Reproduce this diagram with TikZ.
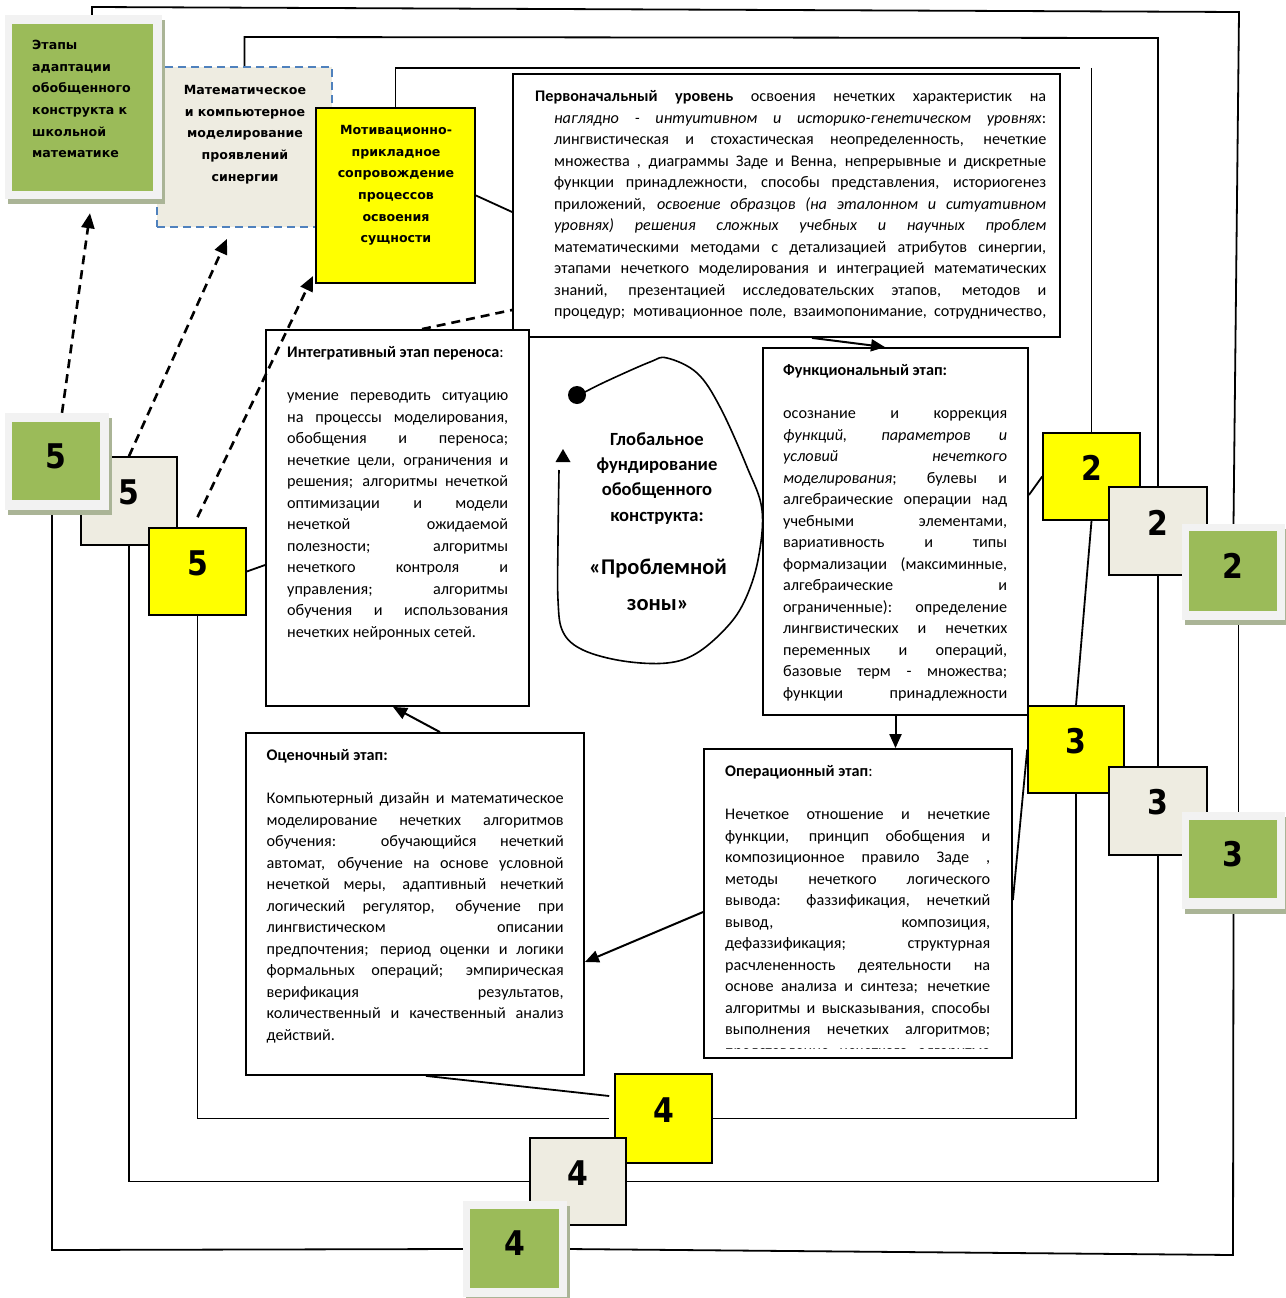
\documentclass[tikz,border=0pt]{standalone}
\usepackage{fontspec}
\usepackage{graphicx}
\setmainfont{Carlito}
\newfontfamily\lblfont{DejaVu Sans}
\usetikzlibrary{arrows.meta,calc,backgrounds}
\definecolor{ygreen}{RGB}{155,187,89}
\definecolor{frm}{RGB}{242,242,242}
\definecolor{shd}{RGB}{170,180,150}
\definecolor{beige}{RGB}{238,236,225}
\definecolor{yel}{RGB}{255,255,0}
\definecolor{dblue}{RGB}{79,129,189}
\newcommand\LB{\linebreak}
\newcommand\PSet{\parindent=0pt\leftskip=0pt\rightskip=0pt\tolerance=10000\pretolerance=-1\hyphenpenalty=10000\exhyphenpenalty=10000\hbadness=10000}
\newcommand\bx[6]{%
  \pgfmathsetmacro\bxw{#4-#2}\pgfmathsetmacro\bxh{#5-#3}%
  \node[#1, minimum width=\bxw pt, minimum height=\bxh pt] (#6) at ({(#2+#4)/2},{(#3+#5)/2}) {};}
\newcommand\gbox[9]{%
  \fill[shd] ({#2+3},{#3+5}) rectangle ({#4+3},{#5+5});
  \bx{gframe}{#2}{#3}{#4}{#5}{#1F}
  \bx{gfill}{#6}{#7}{#8}{#9}{#1}}
\tikzset{
  stg/.style={draw, line width=1.8pt, fill=white, inner sep=0pt},
  ybox/.style={draw, line width=1.6pt, fill=yel, inner sep=0pt},
  bbox/.style={draw, line width=1.6pt, fill=beige, inner sep=0pt},
  gfill/.style={fill=ygreen, inner sep=0pt},
  gframe/.style={fill=frm, inner sep=0pt},
  txt/.style={anchor=north west, inner sep=0pt, align=justify, font=\fontsize{16.2}{21.5}\selectfont},
  lbl/.style={inner sep=0pt, font=\lblfont\bfseries\fontsize{12.6}{21.6}\selectfont},
  num/.style={inner sep=0pt, font=\lblfont\bfseries\fontsize{34}{34}\selectfont},
  loopline/.style={line width=1.8pt},
  conn/.style={line width=1.8pt},
  arr/.style={line width=2pt, -{Triangle[length=14pt,width=12pt]}},
  dashar/.style={line width=2.6pt, dash pattern=on 9pt off 6pt, -{Triangle[length=15pt,width=13pt]}},
  dashln/.style={line width=2.6pt, dash pattern=on 9pt off 6pt},
}
\begin{document}
\begin{tikzpicture}[x=1pt,y=-1pt]
\useasboundingbox (0,0) rectangle (1285,1298);

% ---- top-left label boxes
\bx{bbox, draw=dblue, dash pattern=on 8pt off 5pt, line width=1.8pt}{157}{67}{332}{227}{bTop}
\gbox{gTop}{5}{15}{162}{199}{12}{24}{153}{191}
\bx{ybox, line width=2pt}{316}{108}{475}{283}{mot}

% ---- stage boxes
\bx{stg}{513}{74}{1060}{337}{topbox}
\bx{stg}{266}{330}{529}{706}{integr}
\bx{stg}{763}{348}{1028}{715}{func}
\bx{stg}{246}{733}{584}{1075}{eval}
\bx{stg}{704}{749}{1012}{1058}{oper}

% ---- numbered boxes
\bx{ybox}{1043}{433}{1140}{520}{y2}
\bx{bbox}{1109}{487}{1207}{575}{b2}
\gbox{g2}{1182}{524}{1285}{620}{1189}{531}{1277}{611}
\bx{ybox}{1028}{706}{1124}{793}{y3}
\bx{bbox}{1109}{767}{1207}{855}{b3}
\gbox{g3}{1182}{812}{1285}{909}{1189}{820}{1277}{898}
\bx{ybox}{615}{1074}{712}{1163}{y4}
\bx{bbox}{530}{1138}{626}{1225}{b4}
\gbox{g4}{463}{1201}{567}{1297}{470}{1209}{559}{1288}
\bx{bbox}{81}{457}{177}{545}{b5}
\bx{ybox}{149}{528}{246}{615}{y5}
\gbox{g5}{5}{413}{109}{510}{12}{422}{100}{500}

\foreach \b/\d/\s in {y2/2/8.5,b2/2/8.5,g2/2/5,y3/3/8.5,b3/3/8.5,g3/3/5,y4/4/8.5,b4/4/8.5,g4/4/5,y5/5/8.5,b5/5/8.5,g5/5/5}
  \node[num] (n\b) at ([yshift=\s pt]\b.center) {\scalebox{0.88}[1]{\d}};

% ---- coordinates for loop corners
\coordinate (oTL) at (92,7);
\coordinate (oTR) at (1239,12);
\coordinate (oBR) at (1233,1255);
\coordinate (oBL) at (52,1250);
\coordinate (bTL) at (245,37);
\coordinate (bTR) at (1158,38);
\coordinate (yTL) at (395,68);
\coordinate (yTR) at (1080,68);
\coordinate (yV) at (1092,68);
\coordinate (y4L) at ([xshift=-5pt]y4.west);

\begin{pgfonlayer}{background}
  \fill[white] (0,0) rectangle (1285,1298);
  % outer (green) loop
  \draw[loopline] ([xshift=8.5pt]gTopF.north) -- ([xshift=8.5pt]gTopF.north |- oTL) -- (oTR) -- (g2F.north);
  \draw[loopline] ([xshift=5pt]g2F.south) -- ([xshift=5pt]g3F.north);
  \draw[loopline] (g3F.south) -- (oBR) -- (g4F.east);
  \draw[loopline] (g4F.west) -- (oBL) -- (oBL |- g5F.south);
  % middle (beige) loop
  \draw[loopline] (bTop.north) -- (bTop.north |- bTL) -- (bTR) -- (b2.north);
  \draw[loopline] (b2.south) -- (b3.north);
  \draw[loopline] (b3.south) -- (b3.south |- b4.east) -- (b4.east);
  \draw[loopline] (b4.west) -- (b4.west -| b5.south) -- (b5.south);
  % inner (yellow) loop
  \draw[loopline] (mot.north) -- (mot.north |- yTL) -- (yTR);
  \draw[loopline] (y2.north |- yV) -- (y2.north);
  \draw[loopline] (y2.south) -- (y3.north);
  \draw[loopline] (y3.south) -- (y3.south |- y4.east) -- (y4.east);
  \draw[loopline] (y4L) -- (y4L -| y5.south) -- (y5.south);
  % plain connectors
  \draw[conn] (mot.east) -- ([yshift=-6.5pt]topbox.west);
  \draw[conn] (y2.west) -- ([yshift=36.5pt]func.east);
  \draw[conn] (y3.west) -- ([yshift=3.5pt]oper.east);
  \draw[conn] ([xshift=-5pt,yshift=22.5pt]y4.west) -- ([xshift=11pt]eval.south);
  \draw[conn] (y5.east) -- ([yshift=-47pt]integr.west);
  \draw[dashln] ([xshift=24.5pt]integr.north) -- ([yshift=-104.5pt]topbox.west);
\end{pgfonlayer}

% ---- texts
\node[lbl, anchor=north west, text width=125pt] (tGTop) at (32,34.3)
  {\strut Этапы\\ \strut адаптации\\ \strut обобщенного\\ \strut конструкта к\\ \strut школьной\\ \strut математике};
\node[lbl, anchor=north, text width=172pt, align=center] (tBTop) at (245,79.3)
  {\strut Математическое\\ \strut и компьютерное\\ \strut моделирование\\ \strut проявлений\\ \strut синергии};
\node[lbl, anchor=north, text width=155pt, align=center] (tMot) at (396,119.3)
  {\strut Мотивационно-\\ \strut прикладное\\ \strut сопровождение\\ \strut процессов\\ \strut освоения\\ \strut сущности};

\node[txt, text width=511pt] (tTop) at (535,86.7) {\PSet\parfillskip=0pt
\hangindent=19pt\hangafter=1
\strut\textbf{Первоначальный уровень} освоения нечетких характеристик на\LB
\textit{наглядно - интуитивном и историко-генетическом уровнях}:\LB
лингвистическая и стохастическая неопределенность, нечеткие\LB
множества , диаграммы Заде и Венна, непрерывные и дискретные\LB
функции принадлежности, способы представления, историогенез\LB
приложений, \textit{освоение образцов (на эталонном и ситуативном\LB
уровнях) решения сложных учебных и научных проблем}\LB
математическими методами с детализацией атрибутов синергии,\LB
этапами нечеткого моделирования и интеграцией математических\LB
знаний, презентацией исследовательских этапов, методов и\LB
процедур; мотивационное поле, взаимопонимание, сотрудничество,\par};

\node[txt, text width=221pt] (tInt) at (287,342.7) {\PSet
\strut\textbf{Интегративный этап переноса}:\par
\strut\par
\strut умение переводить ситуацию\LB
на процессы моделирования,\LB
обобщения и переноса;\LB
нечеткие цели, ограничения и\LB
решения; алгоритмы нечеткой\LB
оптимизации и модели\LB
нечеткой ожидаемой\LB
полезности; алгоритмы\LB
нечеткого контроля и\LB
управления; алгоритмы\LB
обучения и использования\LB
нечетких нейронных сетей.\par};

\node[txt, text width=224pt] (tFun) at (783,360.7) {\PSet
\strut\textbf{Функциональный этап:}\par
\strut\par
\parfillskip=0pt
\strut осознание и коррекция\LB
\textit{функций, параметров и\LB
условий нечеткого\LB
моделирования}; булевы и\LB
алгебраические операции над\LB
учебными элементами,\LB
вариативность и типы\LB
формализации (максиминные,\LB
алгебраические и\LB
ограниченные): определение\LB
лингвистических и нечетких\LB
переменных и операций,\LB
базовые терм - множества;\LB
функции принадлежности\par};

\node[txt, text width=297pt] (tEval) at (266.5,745.7) {\PSet
\strut\textbf{Оценочный этап:}\par
\strut\par
\strut Компьютерный дизайн и математическое\LB
моделирование нечетких алгоритмов\LB
обучения: обучающийся нечеткий\LB
автомат, обучение на основе условной\LB
нечеткой меры, адаптивный нечеткий\LB
логический регулятор, обучение при\LB
лингвистическом описании\LB
предпочтения; период оценки и логики\LB
формальных операций; эмпирическая\LB
верификация результатов,\LB
количественный и качественный анализ\LB
действий.\par};

\begin{scope}
\clip (704,749) rectangle (1012,1048.5);
\node[txt, text width=265pt] (tOp) at (725,761.7) {\PSet
\strut\textbf{Операционный этап}:\par
\strut\par
\parfillskip=0pt
\strut Нечеткое отношение и нечеткие\LB
функции, принцип обобщения и\LB
композиционное правило Заде ,\LB
методы нечеткого логического\LB
вывода: фаззификация, нечеткий\LB
вывод, композиция,\LB
дефаззификация; структурная\LB
расчлененность деятельности на\LB
основе анализа и синтеза; нечеткие\LB
алгоритмы и высказывания, способы\LB
выполнения нечетких алгоритмов;\LB
представление нечеткого алгоритма\par};
\end{scope}

% ---- global loop
\node[circle, fill, minimum size=18pt, inner sep=0pt] (dot) at (577,395) {};
\draw[line width=1.6pt] plot[smooth, tension=0.6] coordinates {(583,393) (607,381) (650,362) (667,358) (697,373) (720,407) (747,467) (762,510) (758,560) (745,600) (727,627) (697,653) (667,663) (623,661) (583,650) (563,632) (558,600) (558,540) (559,470)};
\fill (563,449) -- (555.5,462) -- (570.5,462) -- cycle;
\node[inner sep=0pt, anchor=north, align=center, font=\bfseries\fontsize{18.6}{25.3}\selectfont] (glob) at (657,427.3)
  {\strut Глобальное\\ \strut фундирование\\ \strut обобщенного\\ \strut конструкта:};
\node[inner sep=0pt, anchor=north, align=center, font=\bfseries\fontsize{22.5}{36}\selectfont] (zone) at (658,549)
  {\strut «Проблемной\\ \strut зоны»};

% ---- arrows
\draw[arr] ([xshift=25.5pt]topbox.south) -- ([xshift=-10.5pt]func.north);
\draw[arr] (func.south) -- (func.south |- oper.north);
\draw[arr] ([yshift=-8.5pt]oper.west) -- ([yshift=-58pt]eval.east);
\draw[arr] ([xshift=25pt]eval.north) -- ([xshift=-4.5pt]integr.south);
\draw[dashar] ([xshift=5pt]g5F.north) -- ([xshift=6.5pt,yshift=-14pt]gTopF.south);
\draw[dashar] (b5.north) -- ([xshift=-17.5pt,yshift=-11pt]bTop.south);
\draw[dashar] ([yshift=10pt]y5.north) -- ([xshift=-2pt,yshift=8pt]mot.south west);
\end{tikzpicture}
\end{document}
